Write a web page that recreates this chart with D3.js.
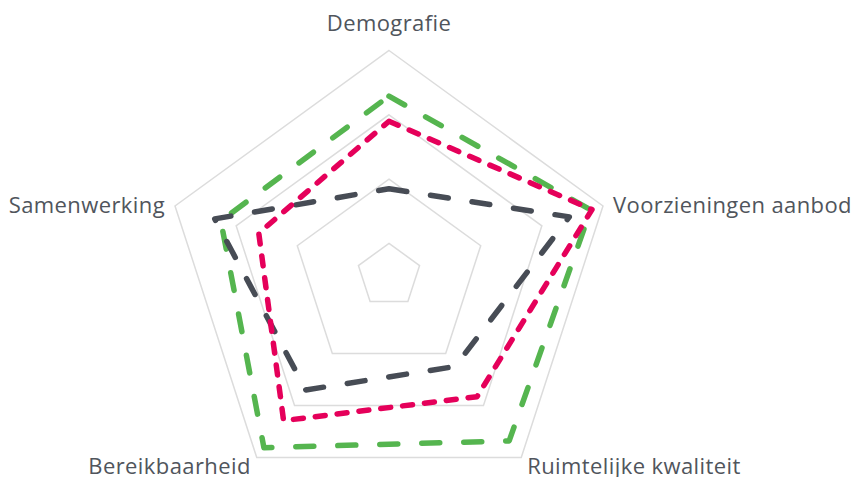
<!DOCTYPE html>
<html>
<head>
<meta charset="utf-8">
<script src="https://cdn.jsdelivr.net/npm/d3@7"></script>
<style>
  body { margin: 0; background: #fff; }
  text { font-family: "Segoe UI", "Open Sans", sans-serif; }
</style>
</head>
<body>
<div id="chart"></div>
<script>
// axis labels, clockwise from the top
const axes = ["Demografie", "Voorzieningen aanbod", "Ruimtelijke kwaliteit", "Bereikbaarheid", "Samenwerking"];
const gridLevels = [1, 2, 3, 4];

// series values (score per axis)
const greenValues = [3.29, 3.80, 3.68, 3.81, 3.25];
const grayValues = [1.85, 3.45, 2.25, 2.70, 3.35];
const redValues = [2.90, 3.82, 2.83, 3.29, 2.63];

const seriesList = [
  {name: "groen", values: greenValues, color: "#55b54f", dash: "18,24"},
  {name: "grijs", values: grayValues, color: "#474c55", dash: "18,24"},
  {name: "rood", values: redValues, color: "#e5005a", dash: "10,12"}
];

width = 858, height = 477;
cx = 389, cy = 275.5;

svg = d3.select("#chart")
  .append("svg")
  .attr("width", width)
  .attr("height", height)
  .append("g")
  .attr("transform", `translate(${cx}, ${cy})`);

// radial scale, grid ring 1 sits a bit away from the centre
r = d3.scaleLinear().domain([0.5, 4]).range([0, 225]);
angle = d3.scalePoint().domain(axes).range([0, 2 * Math.PI * 4 / 5]);

// grid pentagons
gridLine = d3.lineRadial()
  .angle(d => angle(d.axis))
  .radius(d => r(d.v))
  .curve(d3.curveLinearClosed);

svg.selectAll(".grid")
  .data(gridLevels)
  .join("path")
    .attr("class", "grid")
    .attr("d", lvl => gridLine(axes.map(a => ({axis: a, v: lvl}))))
    .style("fill", "none")
    .style("stroke", "#dcdcdc")
    .style("stroke-width", 1.5);

// series
seriesLine = d3.lineRadial()
  .angle((d, i) => angle(axes[i]))
  .radius(d => r(d))
  .curve(d3.curveLinearClosed);

svg.selectAll(".series")
  .data(seriesList)
  .join("path")
    .attr("class", "series")
    .attr("d", s => seriesLine(s.values))
    .style("fill", "none")
    .style("stroke", s => s.color)
    .style("stroke-width", 5.5)
    .style("stroke-dasharray", s => s.dash)
    .style("stroke-linecap", "round")
    .style("stroke-linejoin", "round");

// axis labels
labelPos = function(a) {
  const t = angle(a);
  const rr = r(4);
  return [Math.sin(t) * rr, -Math.cos(t) * rr];
}

svg.selectAll(".label")
  .data(axes)
  .join("text")
    .attr("class", "label")
    .attr("x", a => {
      const [x, y] = labelPos(a);
      if (a === axes[0]) return x;
      if (a === axes[1]) return x + 10;
      if (a === axes[4]) return x - 10;
      return x + (x > 0 ? 6 : -6);
    })
    .attr("y", a => {
      const [x, y] = labelPos(a);
      if (a === axes[0]) return y - 20;
      if (a === axes[1] || a === axes[4]) return y + 7;
      return y + 16;
    })
    .attr("text-anchor", a => {
      const [x] = labelPos(a);
      if (Math.abs(x) < 1) return "middle";
      return x > 0 ? "start" : "end";
    })
    .style("font-size", "22px")
    .style("letter-spacing", "0.4px")
    .style("fill", "#50555c")
    .text(a => a);
</script>
</body>
</html>
